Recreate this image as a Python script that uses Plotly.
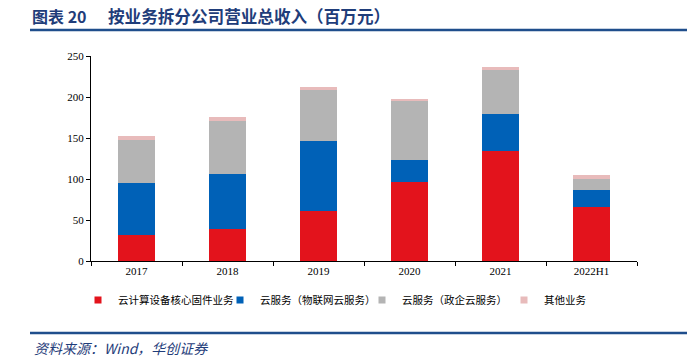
import plotly.graph_objects as go

categories = ["2017", "2018", "2019", "2020", "2021", "2022H1"]
core_hw = [31.3, 38.6, 60.5, 96.6, 133.8, 65.9]
iot_cloud = [63.8, 67.4, 86.0, 26.4, 45.5, 20.3]
gov_cloud = [52.1, 64.6, 62.4, 72.0, 54.0, 14.2]
other = [5.2, 5.0, 3.7, 3.0, 3.3, 4.9]

series_names = ["云计算设备核心固件业务", "云服务（物联网云服务）", "云服务（政企云服务）", "其他业务"]
series_values = [core_hw, iot_cloud, gov_cloud, other]
colors = ["#E3131C", "#0061B7", "#B4B4B4", "#E8BBBB"]

fig = go.Figure()
for name, vals, c in zip(series_names, series_values, colors):
    fig.add_trace(go.Bar(x=categories, y=vals, name=name, marker_color=c,
                         marker_line_width=0, showlegend=False))
for name, c in zip(series_names, colors):
    fig.add_trace(go.Scatter(x=[None], y=[None], mode="markers", name=name,
                             marker=dict(symbol="square", size=7, color=c)))

cjk = "Noto Sans CJK SC"
serif = "Liberation Serif"
H = 205.0
W = 546.0

fig.update_layout(
    barmode="stack",
    bargap=0.6,
    width=687, height=363,
    margin=dict(l=91, r=50, t=56, b=102, autoexpand=False),
    plot_bgcolor="white", paper_bgcolor="white",
    font=dict(family=serif, size=11, color="#000000"),
    legend=dict(orientation="h", x=(78 - 91) / W, xanchor="left", y=-(300 - 261) / H,
                yanchor="middle", traceorder="normal",
                font=dict(family=cjk, size=10.5, color="#000"),
                itemwidth=30, entrywidth=97, tracegroupgap=0, bgcolor="rgba(0,0,0,0)"),
    xaxis=dict(showline=True, linecolor="#000", linewidth=1, ticks="outside",
               tickson="boundaries", ticklen=4, tickcolor="#000", automargin=False,
               tickfont=dict(family=serif, size=11), showgrid=False),
    yaxis=dict(range=[0, 250], dtick=50, showline=True, linecolor="#000", linewidth=1,
               ticks="outside", ticklen=4, tickcolor="#000", showgrid=False, automargin=False,
               tickfont=dict(family=serif, size=11), zeroline=False),
    shapes=[
        dict(type="line", xref="paper", yref="paper", x0=-(91 - 30) / W, x1=1 + 50 / W,
             y0=1 + (56 - 30) / H, y1=1 + (56 - 30) / H,
             line=dict(color="#1F4E8C", width=2.5)),
        dict(type="line", xref="paper", yref="paper", x0=-(91 - 30) / W, x1=1 + 50 / W,
             y0=-(333 - 261) / H, y1=-(333 - 261) / H,
             line=dict(color="#1F4E8C", width=2.5)),
    ],
    annotations=[
        dict(text="<b>图表 20</b>", xref="paper", yref="paper",
             x=-(91 - 30) / W, y=1 + (56 - 16) / H, xanchor="left", yanchor="middle",
             showarrow=False, font=dict(family=cjk, size=16, color="#1F3D7A")),
        dict(text="<b>按业务拆分公司营业总收入（百万元）</b>", xref="paper", yref="paper",
             x=-(91 - 106) / W, y=1 + (56 - 16) / H, xanchor="left", yanchor="middle",
             showarrow=False, font=dict(family=cjk, size=16.6, color="#1F3D7A")),
        dict(text="<i>资料来源：Wind，华创证券</i>", xref="paper", yref="paper",
             x=-(91 - 32) / W, y=-(348 - 261) / H, xanchor="left", yanchor="middle",
             showarrow=False, font=dict(family=cjk, size=14, color="#1F3D7A")),
    ],
)

fig.write_html("out.html", config={"displayModeBar": False},
               post_script="document.body.style.margin='0';")
